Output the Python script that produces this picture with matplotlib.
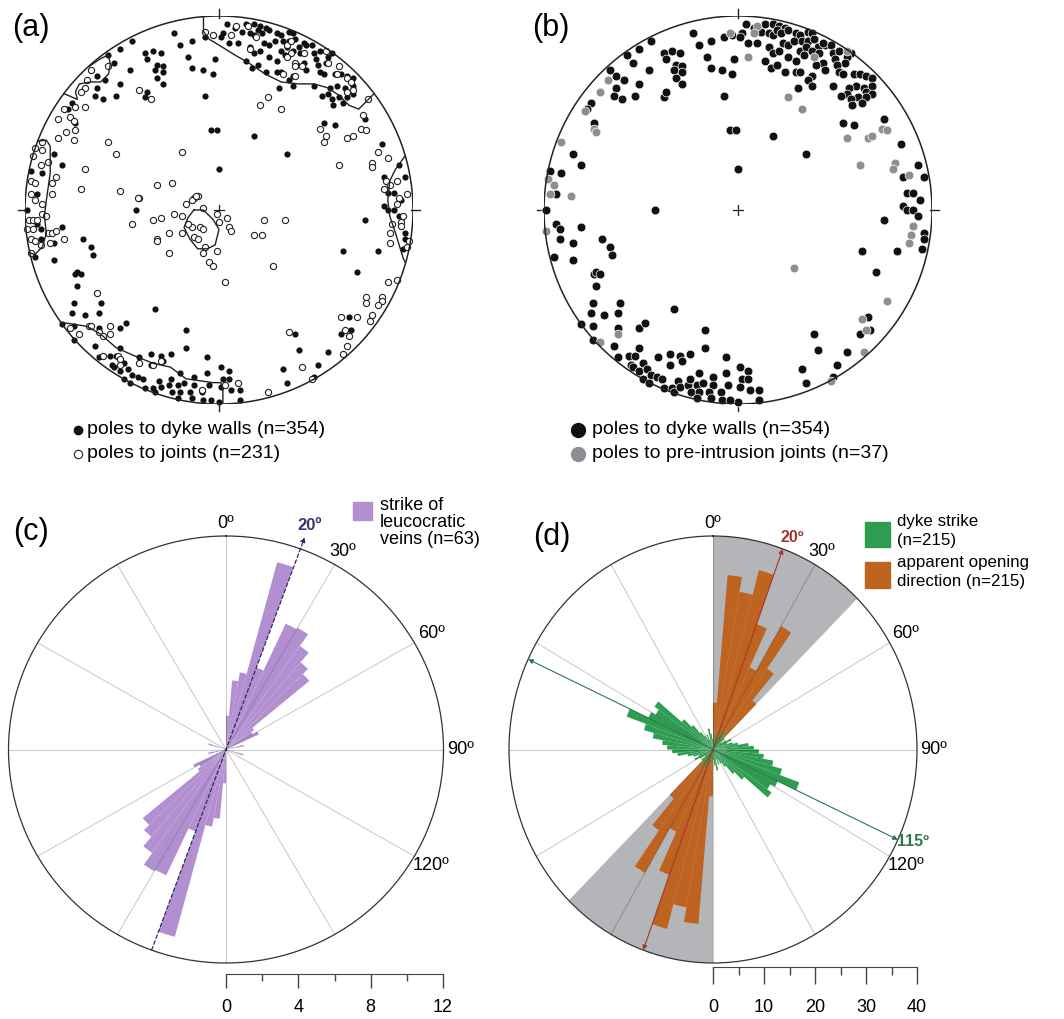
import numpy as np
import matplotlib
matplotlib.use('Agg')
import matplotlib.pyplot as plt
from matplotlib.patches import Circle, Rectangle
from matplotlib.lines import Line2D

plt.rcParams['font.family'] = ['Liberation Sans', 'DejaVu Sans']

W, H = 1064, 1019

# poles to dyke walls (x = east, y = north, net radius = 1)
dyke_xy = np.array([
    (-0.23, 0.91), (-0.20, 0.85), (-0.14, 0.87), (-0.07, 0.89), (-0.03, 0.90), (-0.02, 0.78),
    (-0.45, 0.87), (-0.51, 0.83), (-0.57, 0.80), (-0.38, 0.81), (-0.34, 0.82), (-0.30, 0.81),
    (-0.37, 0.78), (-0.16, 0.79), (-0.54, 0.76), (-0.32, 0.75), (-0.29, 0.74), (-0.33, 0.72),
    (-0.29, 0.71), (-0.46, 0.72), (-0.14, 0.73), (-0.08, 0.72), (-0.03, 0.70), (-0.66, 0.72),
    (-0.63, 0.69), (-0.59, 0.67), (-0.51, 0.65), (-0.32, 0.68), (-0.29, 0.65), (-0.63, 0.63),
    (-0.64, 0.59), (-0.60, 0.57), (-0.53, 0.59), (-0.38, 0.58), (-0.37, 0.61), (-0.07, 0.59),
    (-0.76, 0.55), (-0.78, 0.52), (-0.74, 0.45), (-0.04, 0.41), (-0.01, 0.41), (-0.85, 0.29),
    (-0.81, 0.23), (-0.97, 0.20), (-0.91, 0.19), (-0.94, 0.08), (0.00, 0.21), (-0.43, 0.00),
    (-0.99, 0.00),
    (0.04, 0.96), (0.08, 0.94), (0.14, 0.96), (0.18, 0.96), (0.21, 0.95), (0.24, 0.94),
    (0.02, 0.91), (0.12, 0.92), (0.16, 0.91), (0.18, 0.90), (0.20, 0.93), (0.22, 0.91),
    (0.26, 0.93), (0.30, 0.91), (0.32, 0.90), (0.36, 0.92), (0.38, 0.91), (0.01, 0.89),
    (0.05, 0.86), (0.10, 0.86), (0.16, 0.84), (0.18, 0.81), (0.21, 0.82), (0.23, 0.86),
    (0.26, 0.85), (0.29, 0.87), (0.33, 0.87), (0.36, 0.87), (0.39, 0.88), (0.45, 0.85),
    (0.48, 0.85), (0.32, 0.82), (0.35, 0.84), (0.41, 0.84), (0.44, 0.86), (0.26, 0.79),
    (0.30, 0.77), (0.34, 0.80), (0.38, 0.82), (0.42, 0.81), (0.49, 0.81), (0.52, 0.82),
    (0.58, 0.81), (0.56, 0.79), (0.55, 0.76), (0.44, 0.76), (0.45, 0.72), (0.40, 0.75),
    (0.38, 0.69), (0.36, 0.67), (0.50, 0.78), (0.51, 0.75), (0.52, 0.71), (0.54, 0.70),
    (0.17, 0.73), (0.20, 0.75), (0.24, 0.71), (0.30, 0.71), (0.32, 0.71), (0.14, 0.77),
    (0.60, 0.70), (0.63, 0.70), (0.66, 0.69), (0.69, 0.68), (0.61, 0.64), (0.65, 0.63),
    (0.69, 0.64), (0.57, 0.63), (0.56, 0.60), (0.53, 0.59), (0.66, 0.61), (0.69, 0.60),
    (0.62, 0.58), (0.66, 0.58), (0.58, 0.57), (0.59, 0.54), (0.64, 0.55), (0.49, 0.64),
    (0.38, 0.64), (0.31, 0.63), (0.54, 0.45), (0.60, 0.44), (0.75, 0.47), (0.18, 0.38),
    (0.35, 0.29), (0.84, 0.34), (0.93, 0.23), (0.85, 0.17), (0.96, 0.17), (0.87, 0.09),
    (0.90, 0.09), (0.94, 0.05), (0.85, 0.02), (0.87, 0.00), (0.90, 0.00),
    (0.93, -0.03), (0.75, -0.05), (0.96, -0.12), (0.96, -0.15), (0.95, -0.20), (0.82, -0.21),
    (0.64, -0.21), (0.71, -0.32), (0.67, -0.55), (0.68, -0.62), (0.63, -0.64), (0.39, -0.64),
    (0.41, -0.72), (0.56, -0.73), (0.51, -0.80), (0.33, -0.82), (0.35, -0.89), (0.49, -0.86),
    (0.01, -0.81), (0.05, -0.83), (0.02, -0.87), (0.05, -0.87), (0.01, -0.91), (0.06, -0.93),
    (0.11, -0.93), (0.11, -0.98), (0.00, -0.99),
    (-0.94, -0.07), (-0.92, -0.10), (-0.92, -0.15), (-0.81, -0.09), (-0.85, -0.17), (-0.70, -0.15),
    (-0.66, -0.19), (-0.65, -0.23), (-0.95, -0.24), (-0.85, -0.26), (-0.74, -0.33), (-0.73, -0.32),
    (-0.71, -0.33), (-0.73, -0.39), (-0.75, -0.48), (-0.61, -0.48), (-0.76, -0.53), (-0.69, -0.54),
    (-0.62, -0.53), (-0.81, -0.59), (-0.75, -0.60), (-0.62, -0.61), (-0.51, -0.61), (-0.48, -0.58),
    (-0.33, -0.51), (-0.17, -0.62), (-0.17, -0.71), (-0.75, -0.67), (-0.64, -0.70), (-0.62, -0.76),
    (-0.56, -0.75), (-0.53, -0.75), (-0.51, -0.71), (-0.55, -0.80), (-0.54, -0.81), (-0.51, -0.83),
    (-0.49, -0.79), (-0.47, -0.82), (-0.49, -0.87), (-0.45, -0.85), (-0.42, -0.86), (-0.39, -0.87),
    (-0.46, -0.89), (-0.41, -0.76), (-0.35, -0.74), (-0.35, -0.80), (-0.30, -0.75), (-0.29, -0.78),
    (-0.25, -0.74), (-0.38, -0.92), (-0.34, -0.92), (-0.33, -0.94), (-0.31, -0.88), (-0.30, -0.91),
    (-0.26, -0.90), (-0.25, -0.87), (-0.21, -0.90), (-0.20, -0.84), (-0.18, -0.89), (-0.13, -0.86),
    (-0.13, -0.90), (-0.24, -0.94), (-0.20, -0.94), (-0.15, -0.94), (-0.21, -0.97), (-0.14, -0.97),
    (-0.09, -0.94), (-0.08, -0.98), (-0.04, -0.98), (-0.06, -0.84), (-0.06, -0.76), (-0.05, -0.90),
])

# poles to joints (panel a)
joint_xy = np.array([
    (-0.07, 0.92), (-0.03, 0.90), (-0.66, 0.72), (-0.57, 0.74), (-0.68, 0.67), (-0.69, 0.63),
    (-0.71, 0.61), (-0.41, 0.62), (-0.35, 0.57), (-0.69, 0.53), (-0.74, 0.53), (-0.80, 0.52),
    (-0.83, 0.47), (-0.77, 0.48), (-0.75, 0.46), (-0.74, 0.41), (-0.79, 0.40), (-0.75, 0.36),
    (-0.83, 0.37), (-0.57, 0.35), (-0.53, 0.29), (-0.19, 0.30), (-0.91, 0.35), (-0.95, 0.32),
    (-0.91, 0.31), (-0.88, 0.25), (-0.96, 0.28), (-0.92, 0.23), (-0.84, 0.17), (-0.86, 0.14),
    (-0.97, 0.15), (-0.95, 0.14), (-0.97, 0.08), (-0.95, 0.05), (-0.91, 0.03), (-0.86, 0.08),
    (-0.69, 0.21), (-0.71, 0.11), (-0.51, 0.10), (-0.41, 0.06), (-0.32, 0.13), (-0.24, 0.14),
    (-0.13, 0.06), (-0.11, 0.07), (-0.17, 0.03), (-0.08, 0.01),
    (0.09, 0.95), (0.15, 0.95), (0.06, 0.90), (0.16, 0.83), (0.19, 0.89), (0.35, 0.85),
    (0.37, 0.87), (0.37, 0.81), (0.35, 0.79), (0.39, 0.76), (0.44, 0.81), (0.39, 0.74),
    (0.43, 0.74), (0.33, 0.70), (0.39, 0.69), (0.55, 0.82), (0.56, 0.76), (0.62, 0.74),
    (0.61, 0.70), (0.66, 0.68), (0.68, 0.66), (0.69, 0.62), (0.66, 0.61), (0.25, 0.58),
    (0.21, 0.54), (0.32, 0.52), (0.74, 0.49), (0.52, 0.42), (0.55, 0.38), (0.54, 0.35),
    (0.73, 0.42), (0.76, 0.41), (0.66, 0.37), (0.69, 0.38), (0.82, 0.30), (0.87, 0.27),
    (0.79, 0.24), (0.79, 0.22), (0.62, 0.23), (0.86, 0.15), (0.88, 0.13), (0.92, 0.15),
    (0.85, 0.11), (0.97, 0.08), (0.93, 0.06), (0.92, 0.03), (0.77, 0.57),
    (-0.14, 0.05), (-0.12, 0.07), (-0.23, -0.02), (-0.19, -0.03), (-0.34, -0.05), (-0.30, -0.04),
    (-0.45, -0.07), (-0.42, 0.06), (-0.32, -0.15), (-0.26, -0.12), (-0.19, -0.12), (-0.14, -0.09),
    (-0.13, -0.14), (-0.10, -0.09), (-0.08, -0.10), (-0.11, -0.15), (-0.07, -0.19), (-0.01, -0.21),
    (-0.08, -0.22), (-0.05, -0.27), (-0.03, -0.29), (0.03, -0.37), (0.04, -0.04), (0.05, -0.09),
    (0.06, -0.11), (-0.01, -0.02), (0.00, -0.06), (-0.26, -0.22), (0.23, -0.05), (0.34, -0.05),
    (0.18, -0.13), (0.22, -0.13), (0.28, -0.29), (-0.16, -0.07), (-0.32, -0.16),
    (-0.91, -0.02), (-0.89, -0.03), (-0.98, -0.05), (-0.96, -0.05), (-0.94, -0.05), (-0.99, -0.10),
    (-0.96, -0.10), (-0.97, -0.15), (-0.95, -0.16), (-0.92, -0.18), (-0.88, -0.12), (-0.86, -0.12),
    (-0.84, -0.11), (-0.87, -0.17), (-0.80, -0.15), (-0.97, -0.22), (-0.63, -0.43), (-0.56, -0.60),
    (-0.56, -0.64), (-0.72, -0.64), (-0.77, -0.61), (-0.67, -0.60), (-0.66, -0.60), (-0.62, -0.63),
    (-0.60, -0.65), (-0.60, -0.75), (-0.52, -0.75), (-0.51, -0.77), (-0.51, -0.80), (-0.41, -0.79),
    (-0.30, -0.78), (-0.34, -0.80), (-0.09, -0.93),
    (0.87, -0.37), (0.92, -0.36), (0.76, -0.45), (0.76, -0.48), (0.84, -0.45), (0.84, -0.47),
    (0.82, -0.49), (0.79, -0.54), (0.78, -0.57), (0.63, -0.55), (0.71, -0.55), (0.65, -0.62),
    (0.67, -0.65), (0.66, -0.70), (0.64, -0.74), (0.36, -0.63), (0.43, -0.81), (0.48, -0.87),
    (0.25, -0.94), (0.10, -0.89), (0.03, -0.90), (0.89, -0.07), (0.88, -0.12), (0.88, -0.17),
    (0.94, -0.06), (0.94, -0.08), (0.95, -0.03), (0.97, -0.19), (0.98, -0.16),
])

# poles to pre-intrusion joints (panel b)
preint_xy = np.array([
    (-0.04, 0.91), (-0.67, 0.67), (-0.71, 0.61), (-0.79, 0.51), (-0.74, 0.42), (-0.73, 0.40),
    (-0.91, 0.35), (-0.98, 0.16), (-0.95, 0.13), (-0.97, 0.08), (-0.86, 0.07),
    (0.10, 0.95), (0.08, 0.91), (0.39, 0.79), (0.56, 0.82), (0.05, 0.79), (0.26, 0.58),
    (0.33, 0.52), (0.74, 0.42), (0.77, 0.41), (0.56, 0.37), (0.67, 0.37), (0.69, 0.38),
    (0.63, 0.23), (0.81, 0.24), (0.80, 0.21), (0.88, 0.18),
    (0.90, -0.08), (0.89, -0.13), (0.88, -0.17), (0.29, -0.30), (0.77, -0.47), (0.64, -0.56),
    (0.66, -0.62), (0.65, -0.73), (0.48, -0.88),
    (-0.99, -0.11), (-0.62, -0.64), (-0.71, -0.68),
])

# density contours of panel a
contour_north = [(-0.08, 0.997), (-0.08, 0.92), (-0.05, 0.88), (0.00, 0.85), (0.08, 0.80),
                 (0.15, 0.76), (0.24, 0.70), (0.32, 0.66), (0.41, 0.65), (0.49, 0.65),
                 (0.56, 0.63), (0.62, 0.59), (0.67, 0.54), (0.72, 0.52), (0.77, 0.57), (0.80, 0.60)]
contour_east = [(0.96, 0.28), (0.91, 0.21), (0.88, 0.15), (0.87, 0.05), (0.88, -0.03),
                (0.91, -0.12), (0.95, -0.25), (0.96, -0.27)]
contour_west = [(-0.935, 0.355), (-0.89, 0.36), (-0.87, 0.33), (-0.87, 0.19), (-0.89, 0.05),
                (-0.90, -0.03), (-0.89, -0.12), (-0.91, -0.19), (-0.95, -0.23), (-0.975, -0.22)]
contour_nw = [(-0.67, 0.74), (-0.61, 0.78), (-0.57, 0.80), (-0.56, 0.75), (-0.57, 0.70),
              (-0.61, 0.66), (-0.66, 0.66), (-0.72, 0.65), (-0.74, 0.61), (-0.73, 0.57), (-0.80, 0.60)]
contour_south = [(-0.81, -0.58), (-0.74, -0.59), (-0.68, -0.60), (-0.61, -0.64), (-0.53, -0.71),
                 (-0.44, -0.75), (-0.34, -0.79), (-0.25, -0.81), (-0.17, -0.87), (-0.10, -0.88),
                 (-0.03, -0.89), (0.01, -0.89), (0.02, -0.93), (0.02, -0.9998)]
contour_centre = [(-0.13, 0.00), (-0.08, 0.00), (-0.03, -0.05), (0.00, -0.10), (-0.02, -0.18),
                  (-0.06, -0.20), (-0.11, -0.20), (-0.15, -0.15), (-0.18, -0.09), (-0.16, -0.04),
                  (-0.13, 0.00)]

# rose diagrams: 5 degree bins from 0 to 180 (axial data, mirrored)
bin_start = np.arange(0, 180, 5)
vein_counts = [1.9, 3.9, 4.4, 10.9, 4.9, 7.8, 7.9, 7.1, 6.4, 6.0, 1.9, 1.7,
               2.0, 0, 0, 1.0, 0, 0, 0, 0, 0, 1.0, 0, 0,
               0, 0, 0, 0, 0, 0, 0, 0, 0, 0, 0, 0]
opening_counts = [8.8, 32.8, 30.0, 34.8, 25.0, 17.0, 26.7, 18.5, 12.0, 0, 0, 0,
                  0, 0, 0, 0, 0, 0, 0, 0, 0, 0, 0, 0,
                  0, 0, 0, 0, 0, 0, 0, 0, 0, 0, 0, 0]
strike_counts = [2, 1, 3, 1, 2, 3, 4, 3, 2, 3, 2, 3,
                 4, 3, 4, 5, 7, 8, 9, 10, 12, 14, 18, 14,
                 13, 14, 8, 6, 4, 3, 2, 3, 2, 4, 3, 2]
angle_labels = [0, 30, 60, 90, 120]
label_rscale = [1.06, 1.07, 1.09, 1.08, 1.09]

PURPLE = '#b28fd1'
GREEN = '#2e9d52'
ORANGE = '#bf6420'
WEDGE = '#b3b5b8'

fig = plt.figure(figsize=(W / 100, H / 100), dpi=100)


def fx(x):
    return x / W


def fy(y):
    return 1 - y / H


def px_axes(cx, cy, rx, ry, **kw):
    return fig.add_axes([fx(cx - rx), fy(cy + ry), 2 * rx / W, 2 * ry / H], **kw)


def stereonet(ax):
    ax.set_xlim(-1, 1)
    ax.set_ylim(-1, 1)
    ax.axis('off')
    ax.add_patch(Circle((0, 0), 1, fill=False, lw=1.1, ec='#222222', zorder=4))
    for a in np.radians([0, 90, 180, 270]):
        ax.plot([0.99 * np.sin(a), 1.035 * np.sin(a)], [0.99 * np.cos(a), 1.035 * np.cos(a)],
                color='#222222', lw=1.0, clip_on=False)
    ax.plot([-0.028, 0.028], [0, 0], color='#222222', lw=0.9)
    ax.plot([0, 0], [-0.028, 0.028], color='#222222', lw=0.9)


def legend_marker(x, y, **kw):
    fig.add_artist(Line2D([fx(x)], [fy(y)], transform=fig.transFigure, ls='none', marker='o', **kw))


# ---------------- (a) ----------------
ax_a = px_axes(219, 210, 194, 194)
stereonet(ax_a)
ax_a.scatter(dyke_xy[:, 0], dyke_xy[:, 1], s=20, c='#111111', lw=0, clip_on=False, zorder=2)
ax_a.scatter(joint_xy[:, 0], joint_xy[:, 1], s=20, facecolors='white', edgecolors='#222222',
             lw=0.8, clip_on=False, zorder=3)
for c in (contour_north, contour_east, contour_west, contour_nw, contour_south, contour_centre):
    c = np.array(c)
    ax_a.plot(c[:, 0], c[:, 1], color='#222222', lw=1.0, zorder=3)

legend_marker(78, 430, ms=6, mfc='#111111', mec='#111111')
legend_marker(78, 454, ms=6, mfc='white', mec='#222222', mew=0.8)
fig.text(fx(87), fy(430), 'poles to dyke walls (n=354)', fontsize=14, va='center')
fig.text(fx(87), fy(454), 'poles to joints (n=231)', fontsize=14, va='center')

# ---------------- (b) ----------------
ax_b = px_axes(738, 210, 194, 194)
stereonet(ax_b)
ax_b.scatter(dyke_xy[:, 0], dyke_xy[:, 1], s=40, c='#111111', edgecolors='white', lw=0.5,
             clip_on=False, zorder=2)
ax_b.scatter(preint_xy[:, 0], preint_xy[:, 1], s=40, c='#8b8e93', edgecolors='white', lw=0.5,
             clip_on=False, zorder=3)

legend_marker(578, 430, ms=10, mfc='#111111', mec='#111111')
legend_marker(578, 454, ms=10, mfc='#8b8e93', mec='#8b8e93')
fig.text(fx(592), fy(430), 'poles to dyke walls (n=354)', fontsize=14, va='center')
fig.text(fx(592), fy(454), 'poles to pre-intrusion joints (n=37)', fontsize=14, va='center')


# ---------------- rose diagrams ----------------
def rose(ax, rmax):
    ax.set_aspect('auto')
    ax.set_theta_zero_location('N')
    ax.set_theta_direction(-1)
    ax.set_rlim(0, rmax)
    ax.set_xticks([])
    ax.set_yticks([])
    ax.grid(False)
    ax.spines['polar'].set_color('#333333')
    ax.spines['polar'].set_linewidth(0.9)
    for a in range(0, 360, 30):
        ax.plot([np.radians(a)] * 2, [0, rmax], color=(0, 0, 0, 0.2), lw=0.8, zorder=3)
    for a, s in zip(angle_labels, label_rscale):
        ax.text(np.radians(a), rmax * s, f'{a}º', fontsize=13, ha='center', va='center')


def petals(ax, counts, color, zorder):
    th = np.radians(np.concatenate([bin_start, bin_start + 180]) + 2.5)
    r = np.concatenate([counts, counts])
    ax.bar(th, r, width=np.radians(5), color=color, lw=0, zorder=zorder)


def scalebar(x0, y, length, vmax, major, minor, tick_len, pad):
    sb = fig.add_axes([fx(x0), fy(y), length / W, 10 / H])
    sb.set_xlim(0, vmax)
    sb.set_yticks([])
    for s in ('top', 'left', 'right'):
        sb.spines[s].set_visible(False)
    sb.spines['bottom'].set_color('#444444')
    sb.patch.set_visible(False)
    sb.set_xticks(major)
    sb.set_xticks(minor, minor=True)
    sb.tick_params(axis='x', which='major', length=tick_len, width=1, color='#444444',
                   labelsize=13, pad=pad)
    sb.tick_params(axis='x', which='minor', length=tick_len / 2, width=1, color='#444444')


# (c)
ax_c = px_axes(226, 749.5, 217.5, 213.5, projection='polar')
rose(ax_c, 12)
petals(ax_c, vein_counts, PURPLE, 2)
ax_c.annotate('', xy=(np.radians(20), 12.7), xytext=(np.radians(200), 12.0),
              arrowprops=dict(arrowstyle='-|>', color='#2e2a62', lw=0.9, ls=(0, (3, 2)),
                              mutation_scale=7, shrinkA=0, shrinkB=0),
              annotation_clip=False, zorder=5)
ax_c.text(np.radians(20), 13.4, '20º', fontsize=12, fontweight='bold', color='#3a3270',
          ha='center', va='center')
scalebar(226, 974, 217, 12, [0, 4, 8, 12], [2, 6, 10], 10, 8)
fig.patches.append(Rectangle((fx(353), fy(520)), 19 / W, 18 / H, transform=fig.transFigure,
                             color=PURPLE, figure=fig))
fig.text(fx(380), fy(497), 'strike of\nleucocratic\nveins (n=63)', fontsize=13, va='top',
         linespacing=1.0)

# (d)
ax_d = px_axes(713, 749.5, 204, 213.5, projection='polar')
rose(ax_d, 40)
ax_d.bar(np.radians([22.5, 202.5]), [40, 40], width=np.radians(45), color=WEDGE, lw=0, zorder=1)
petals(ax_d, opening_counts, ORANGE, 2)
petals(ax_d, strike_counts, GREEN, 2.5)
ax_d.annotate('', xy=(np.radians(20), 40), xytext=(np.radians(200), 40),
              arrowprops=dict(arrowstyle='<|-|>', color='#a3362c', lw=0.8, mutation_scale=7,
                              shrinkA=0, shrinkB=0), annotation_clip=False, zorder=5)
ax_d.annotate('', xy=(np.radians(115), 40), xytext=(np.radians(295), 40),
              arrowprops=dict(arrowstyle='<|-|>', color='#2c7a4a', lw=0.8, mutation_scale=7,
                              shrinkA=0, shrinkB=0), annotation_clip=False, zorder=5)
ax_d.text(np.radians(21.3), 42.7, '20º', fontsize=11.5, fontweight='bold', color='#a3362c',
          ha='center', va='center')
ax_d.text(np.radians(113.8), 42.9, '115º', fontsize=11.5, fontweight='bold', color='#2c7a4a',
          ha='center', va='center')
scalebar(713, 967, 204, 40, [0, 10, 20, 30, 40], [5, 15, 25, 35], 12, 11)
fig.patches.append(Rectangle((fx(865), fy(547)), 25 / W, 25 / H, transform=fig.transFigure,
                             color=GREEN, figure=fig))
fig.patches.append(Rectangle((fx(865), fy(588)), 25 / W, 26 / H, transform=fig.transFigure,
                             color=ORANGE, figure=fig))
fig.text(fx(897), fy(514), 'dyke strike\n(n=215)', fontsize=12.2, va='top', linespacing=1.3)
fig.text(fx(897), fy(555), 'apparent opening\ndirection (n=215)', fontsize=12.2, va='top',
         linespacing=1.3)

# panel letters
for lab, x, y in (('(a)', 12, 28), ('(b)', 532, 28), ('(c)', 13, 532), ('(d)', 533, 537)):
    fig.text(fx(x), fy(y), lab, fontsize=22, va='center')

fig.savefig('out.png', dpi=100)
